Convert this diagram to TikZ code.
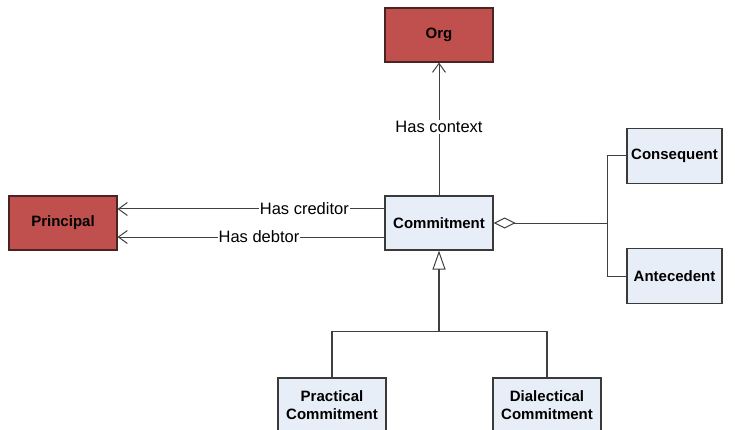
\documentclass[tikz,border=0pt]{standalone}
\usepackage{fontspec}
\setmainfont{Liberation Sans}
\usetikzlibrary{arrows.meta}
\definecolor{redfill}{HTML}{C0504D}
\definecolor{redline}{HTML}{4A2322}
\definecolor{bluefill}{HTML}{E8EEF7}
\definecolor{boxline}{HTML}{3A3A3A}
\definecolor{conn}{HTML}{404040}
\tikzset{
  cls/.style={draw=boxline, line width=1.1pt, minimum width=108pt, minimum height=54pt, inner sep=0pt, font=\fontsize{15}{18}\selectfont\bfseries, align=center},
  redcls/.style={cls, fill=redfill, draw=redline},
  bluecls/.style={cls, fill=bluefill},
  link/.style={draw=conn, line width=1pt},
  assoc/.style={link, -{Straight Barb[length=9pt,width=13pt,line width=1pt]}},
  lbl/.style={fill=white, inner sep=1pt, font=\fontsize{16.5}{19}\selectfont},
}
\begin{document}
\begin{tikzpicture}[x=1pt,y=-1pt]
\useasboundingbox (0,0) rectangle (735,430);
\node[redcls] (org) at (439,35) {Org};
\node[redcls] (principal) at (63,223) {Principal};
\node[bluecls] (commit) at (439,223) {Commitment};
\node[bluecls, minimum width=95pt, minimum height=55pt] (conseq) at (674.5,156) {Consequent};
\node[bluecls, minimum width=95pt, minimum height=55pt] (ante) at (674.5,276) {Antecedent};
\node[bluecls] (prac) at (332,405) {Practical\\Commitment};
\node[bluecls] (dial) at (547,405) {Dialectical\\Commitment};
\coordinate (split) at (607,223);
\coordinate (gen) at (439,331.5);
% associations
\draw[assoc] (commit.west |- 0,209) -- node[lbl, pos=0.30] {Has creditor} (principal.east |- 0,209);
\draw[assoc] (commit.west |- 0,237) -- node[lbl, pos=0.47] {Has debtor} (principal.east |- 0,237);
\draw[assoc] (commit.north) -- node[lbl, pos=0.515] {Has context} (org.south);
% aggregation
\draw[link, {Diamond[open,length=22pt,width=11pt,line width=1pt]}-] (commit.east) -- (split);
\draw[link] (conseq.west) -| (split) |- (ante.west);
% generalization
\draw[link, line width=1.3pt, -{Triangle[open,length=19pt,width=13pt,line width=1pt]}] (gen) -- (commit.south);
\draw[link, line width=1.2pt] (prac.north) |- (gen) -| (dial.north);
\end{tikzpicture}
\end{document}
